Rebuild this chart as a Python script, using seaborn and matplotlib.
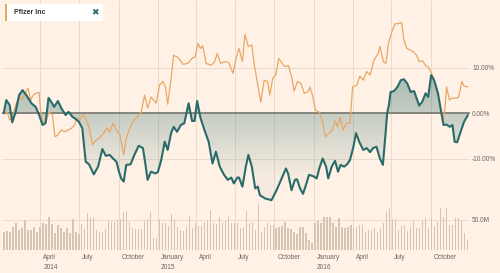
import numpy as np
import pandas as pd
import matplotlib
matplotlib.use("Agg")
import matplotlib.pyplot as plt
import matplotlib.dates as mdates
import matplotlib.transforms as mtransforms
from matplotlib.patches import Rectangle
from matplotlib.path import Path
import seaborn as sns

# ---------------- data ----------------
START = "2014-01-01"
END = "2017-01-01"

# teal series: trading day offset from START, % change
teal_day = [4, 10, 18, 24, 32, 40, 48, 57, 69, 79,
            87, 95, 102, 109, 116, 122, 131, 139, 149, 156,
            165, 173, 180, 188, 196, 204, 215, 225, 235, 243,
            252, 260, 268, 274, 279, 285, 291, 301, 310, 320,
            330, 335, 341, 349, 359, 365, 373, 381, 388, 396,
            402, 410, 419, 427, 437, 445, 451, 457, 465, 474,
            484, 493, 501, 510, 520, 529, 537, 543, 551, 555,
            563, 571, 577, 585, 593, 599, 604, 616, 631, 643,
            655, 665, 670, 678, 686, 691, 698, 705, 713, 719,
            729, 737, 743, 751, 759, 764, 772, 780, 787, 793,
            801, 809, 815, 823, 829, 837, 846, 854, 862, 869,
            877, 885, 892, 897, 902, 906, 910, 918, 926, 934,
            941, 949, 957, 965, 971, 977, 984, 992, 998, 1005,
            1012, 1021, 1027, 1034, 1041, 1049, 1055, 1060, 1066, 1074,
            1082, 1091]
teal_pct = [0.0, 2.9, 1.8, -2.0, 0.3, 4.0, 5.1, 4.0, 2.2, 1.4,
            -0.4, -2.6, -2.2, 3.4, 2.4, 1.4, 2.7, 1.1, -0.4, 0.3,
            -0.8, -1.3, -1.9, -3.3, -10.7, -11.3, -13.5, -11.8, -7.9, -9.4,
            -9.2, -10.0, -10.7, -12.9, -14.4, -15.1, -11.4, -11.3, -9.2, -7.2,
            -7.7, -10.7, -14.7, -12.9, -13.3, -13.0, -10.3, -6.3, -8.1, -4.4,
            -3.0, -4.1, -2.6, -2.2, 2.2, -1.7, -1.7, 2.7, -1.1, -3.7,
            -6.3, -11.1, -8.5, -11.8, -13.6, -14.7, -14.2, -15.5, -14.2, -14.2,
            -16.2, -11.8, -9.2, -11.8, -16.6, -16.2, -18.1, -18.8, -19.2, -17.0,
            -14.4, -12.2, -13.3, -17.0, -14.7, -14.6, -16.6, -17.8, -15.5, -13.6,
            -13.9, -14.4, -12.2, -10.0, -11.8, -14.4, -11.8, -10.5, -12.9, -11.4,
            -11.8, -11.2, -10.3, -7.4, -4.4, -6.4, -8.1, -7.7, -8.6, -7.7,
            -7.4, -10.0, -11.4, -5.9, 0.0, 1.8, 4.7, 4.9, 5.8, 7.3,
            7.5, 6.6, 4.7, 4.9, 3.3, 1.7, 2.5, 4.4, 3.6, 8.4,
            7.3, 4.4, 1.1, -2.6, -2.5, -3.0, -2.6, -6.3, -6.4, -4.1,
            -1.9, -0.4]

# orange series (Pfizer Inc)
orange_day = [4, 12, 18, 24, 32, 40, 48, 56, 61, 67,
              73, 79, 87, 90, 95, 102, 110, 118, 124, 131,
              139, 147, 155, 163, 170, 176, 182, 190, 196, 204,
              212, 221, 229, 238, 246, 252, 260, 268, 276, 279,
              285, 291, 299, 306, 318, 326, 334, 341, 349, 361,
              369, 377, 383, 388, 396, 402, 412, 424, 435, 447,
              452, 459, 465, 470, 478, 490, 498, 504, 512, 521,
              531, 541, 548, 555, 563, 569, 577, 585, 591, 599,
              606, 614, 622, 627, 634, 641, 648, 656, 663, 671,
              679, 684, 692, 700, 708, 716, 721, 727, 734, 743,
              751, 757, 765, 773, 780, 786, 791, 799, 807, 815,
              821, 831, 838, 846, 854, 862, 871, 881, 885, 893,
              899, 905, 913, 920, 928, 936, 941, 948, 955, 963,
              971, 977, 985, 993, 998, 1006, 1014, 1022, 1030, 1032,
              1037, 1041, 1048, 1053, 1061, 1069, 1073, 1077, 1082, 1091]
orange_pct = [0.0, 0.3, -1.5, -1.1, 1.8, 3.6, 2.9, 4.7, 5.5, 2.9,
              4.0, 4.4, 4.6, 0.7, -1.9, -2.2, 0.3, -0.4, -5.2, -4.8,
              -3.7, -4.1, -3.7, -3.3, -2.6, -1.1, -1.5, -0.2, -1.1, -3.3,
              -7.0, -5.9, -5.4, -4.4, -3.3, -4.1, -2.2, -3.7, -4.8, -6.3,
              -9.2, -5.5, -3.3, -1.9, -0.8, 0.3, 4.0, 1.1, 3.6, 2.2,
              6.2, 7.0, 5.8, 2.0, 7.7, 12.8, 12.3, 10.8, 11.0, 12.3,
              12.3, 15.4, 14.3, 14.9, 11.0, 10.6, 11.4, 13.2, 11.0, 11.4,
              11.2, 8.8, 12.1, 14.3, 11.4, 17.4, 14.7, 15.1, 10.6, 6.2,
              2.4, 7.3, 7.0, 4.0, 7.7, 8.4, 12.1, 11.0, 10.3, 10.5,
              7.7, 4.9, 7.0, 6.6, 4.4, 4.7, 5.8, 4.0, 0.7, 0.2,
              -1.9, -5.2, -4.4, -3.9, -1.7, -3.0, -0.8, -3.7, -2.2, -2.2,
              5.8, 6.2, 8.2, 7.3, 9.2, 8.4, 11.7, 13.2, 14.8, 11.4,
              11.0, 15.4, 18.0, 19.7, 19.8, 20.0, 16.2, 14.3, 14.0, 13.6,
              12.8, 11.4, 11.6, 10.4, 10.3, 8.8, 6.6, 3.6, 0.0, -1.9,
              0.7, 5.8, 2.9, 3.3, 3.3, 3.5, 5.1, 7.0, 6.0, 5.8]

# weekly volume (millions), weeks starting 2014-01-06
volume_week_start = "2014-01-06"
volume_m = [29.4, 31.7, 30.6, 38.9, 44.4, 33.3, 37.2, 50.0, 33.3, 33.3,
            38.9, 30.6, 37.8, 44.4, 42.8, 55.6, 42.8, 27.8, 41.7, 36.1,
            30.6, 36.1, 27.8, 51.1, 30.6, 26.1, 42.8, 35.0, 61.1, 55.6,
            53.9, 33.3, 29.4, 30.6, 35.0, 48.3, 46.1, 46.1, 50.0, 51.7,
            63.9, 65.0, 46.1, 37.2, 35.0, 35.0, 35.0, 48.3, 51.7, 62.8,
            19.4, 20.6,
            51.1, 44.4, 45.6, 40.0, 60.0, 51.1, 38.9, 33.3, 32.2, 38.9,
            56.7, 36.1, 44.4, 40.0, 40.0, 47.2, 50.0, 66.7, 45.6, 43.3,
            54.4, 44.4, 48.9, 56.7, 44.4, 45.6, 44.4, 36.1, 38.9, 65.6,
            44.4, 47.2, 33.3, 77.8, 30.6, 37.8, 44.4, 41.7, 41.7, 36.1,
            37.8, 40.0, 47.2, 36.1, 34.4, 30.6, 26.7, 38.9, 37.8, 27.8,
            16.7, 11.1, 45.6, 48.9,
            44.4, 55.6, 55.6, 55.6, 44.4, 38.9, 52.8, 38.9, 36.1, 38.9,
            41.7, 36.1, 38.9, 41.7, 41.7, 30.6, 33.3, 33.3, 36.1, 30.6,
            37.2, 44.4,
            63.9, 70.6,
            51.7, 51.7, 33.3, 40.6, 41.7, 31.7, 38.9, 48.3, 36.1, 36.1,
            48.3, 52.8, 36.1, 52.8, 40.6, 47.2,
            70.6, 55.6, 70.6, 41.7, 41.7, 52.8, 52.8, 50.0, 27.8, 16.7]

tick_dates = ["2014-04-01", "2014-07-01", "2014-10-01", "2015-01-01",
              "2015-04-01", "2015-07-01", "2015-10-01", "2016-01-01",
              "2016-04-01", "2016-07-01", "2016-10-01"]
tick_labels = ["April\n2014", "July", "October", "January\n2015",
               "April", "July", "October", "January\n2016",
               "April", "July", "October"]
pct_ticks = [-10, 0, 10]
pct_labels = ["-10.00%", "0.00%", "10.00%"]
vol_ticks = [50]
vol_labels = ["50.0M"]
legend_label = "Pfizer Inc"

# ---------------- style ----------------
BG = "#fff1e5"
GRID = "#eadccb"
ZERO = "#76766e"
TEAL = "#296b69"
ORANGE = "#e8a865"
VOLC = "#d6c5b2"
TXT = "#6b6763"
FONT = ["Liberation Sans", "DejaVu Sans"]

sns.set_theme(style="white")
plt.rcParams["font.family"] = FONT

W, H = 500, 273
fig = plt.figure(figsize=(W / 100, H / 100), dpi=100, facecolor=BG)


def rect(l, t, r, b):
    return [l / W, 1 - b / H, (r - l) / W, (b - t) / H]


ax = fig.add_axes(rect(2, 0, 470, 205))
axv = fig.add_axes(rect(2, 200, 470, 250))
for a in (ax, axv):
    a.set_facecolor("none")
    for s in a.spines.values():
        s.set_visible(False)

start = pd.Timestamp(START)
teal_dates = start + pd.to_timedelta(teal_day, unit="D")
orange_dates = start + pd.to_timedelta(orange_day, unit="D")
vol_dates = pd.date_range(volume_week_start, periods=len(volume_m), freq="7D")
tdates = pd.to_datetime(tick_dates)

xmin, xmax = pd.Timestamp(START), pd.Timestamp(END)
ylo, yhi = -20.26, 25.0

# gradient fill between teal line and zero
poly = ax.fill_between(teal_dates, teal_pct, 0, facecolor="none", edgecolor="none")
clip = Path.make_compound_path(*poly.get_paths())
ys = np.linspace(ylo, yhi, 256)
alpha = np.clip(0.27 + 0.016 * ys, 0.04, 0.5)
rgb = matplotlib.colors.to_rgb(TEAL)
grad = np.zeros((256, 1, 4))
grad[:, 0, :3] = rgb
grad[:, 0, 3] = alpha
im = ax.imshow(grad, extent=[mdates.date2num(xmin), mdates.date2num(xmax), ylo, yhi],
               aspect="auto", origin="lower", zorder=1, interpolation="bilinear")
im.set_clip_path(clip, transform=ax.transData)

ax.axhline(0, color=ZERO, lw=1.2, zorder=1.5)
sns.lineplot(x=orange_dates, y=orange_pct, ax=ax, color=ORANGE, linewidth=0.9,
             sort=False, estimator=None, zorder=2)
sns.lineplot(x=teal_dates, y=teal_pct, ax=ax, color=TEAL, linewidth=1.5,
             sort=False, estimator=None, zorder=3)

ax.set_xlim(xmin, xmax)
ax.set_ylim(ylo, yhi)
ax.set_xticks(tdates)
ax.set_yticks(pct_ticks)
ax.set_yticklabels(pct_labels)
ax.yaxis.tick_right()
ax.tick_params(axis="x", length=0, labelbottom=False)
ax.tick_params(axis="y", length=0, pad=1.5, labelsize=4.7, labelcolor=TXT)
ax.grid(True, color=GRID, lw=0.7, zorder=0)
ax.set_axisbelow(True)
ax.set_xlabel("")
ax.set_ylabel("")

# volume
axv.bar(vol_dates, volume_m, width=3, color=VOLC, edgecolor="none",
        linewidth=0, zorder=2)
axv.set_xlim(xmin, xmax)
axv.set_ylim(0, 83.33)
axv.set_yticks(vol_ticks)
axv.set_yticklabels(vol_labels)
axv.yaxis.tick_right()
axv.set_xticks(tdates)
axv.set_xticklabels(tick_labels)
axv.tick_params(axis="y", length=0, pad=1.5, labelsize=4.7, labelcolor=TXT)
axv.tick_params(axis="x", length=0, pad=3, labelsize=4.7, labelcolor=TXT)
axv.grid(True, color=GRID, lw=0.7, zorder=0)
axv.set_axisbelow(True)
offset = mtransforms.ScaledTranslation(3 / 100, 0, fig.dpi_scale_trans)
for lbl in axv.get_xticklabels():
    lbl.set_horizontalalignment("left")
    lbl.set_multialignment("left")
    lbl.set_linespacing(1.55)
    lbl.set_transform(lbl.get_transform() + offset)

# legend chip
fig.patches.append(Rectangle((7 / W, 1 - 21 / H), 96 / W, 17 / H,
                             transform=fig.transFigure, facecolor="white",
                             edgecolor="none", zorder=5))
fig.patches.append(Rectangle((5 / W, 1 - 21 / H), 2 / W, 17 / H,
                             transform=fig.transFigure, facecolor=ORANGE,
                             edgecolor="none", zorder=6))
fig.text(14 / W, 1 - 12.8 / H, legend_label, fontsize=5, fontweight="bold",
         color="#33302e", va="center", ha="left", zorder=7)
fig.text(95 / W, 1 - 12.8 / H, "\u2716", fontsize=6.5, color=TEAL,
         va="center", ha="center", family=["DejaVu Sans"], zorder=7)

fig.savefig("out.png", dpi=100, facecolor=BG)
